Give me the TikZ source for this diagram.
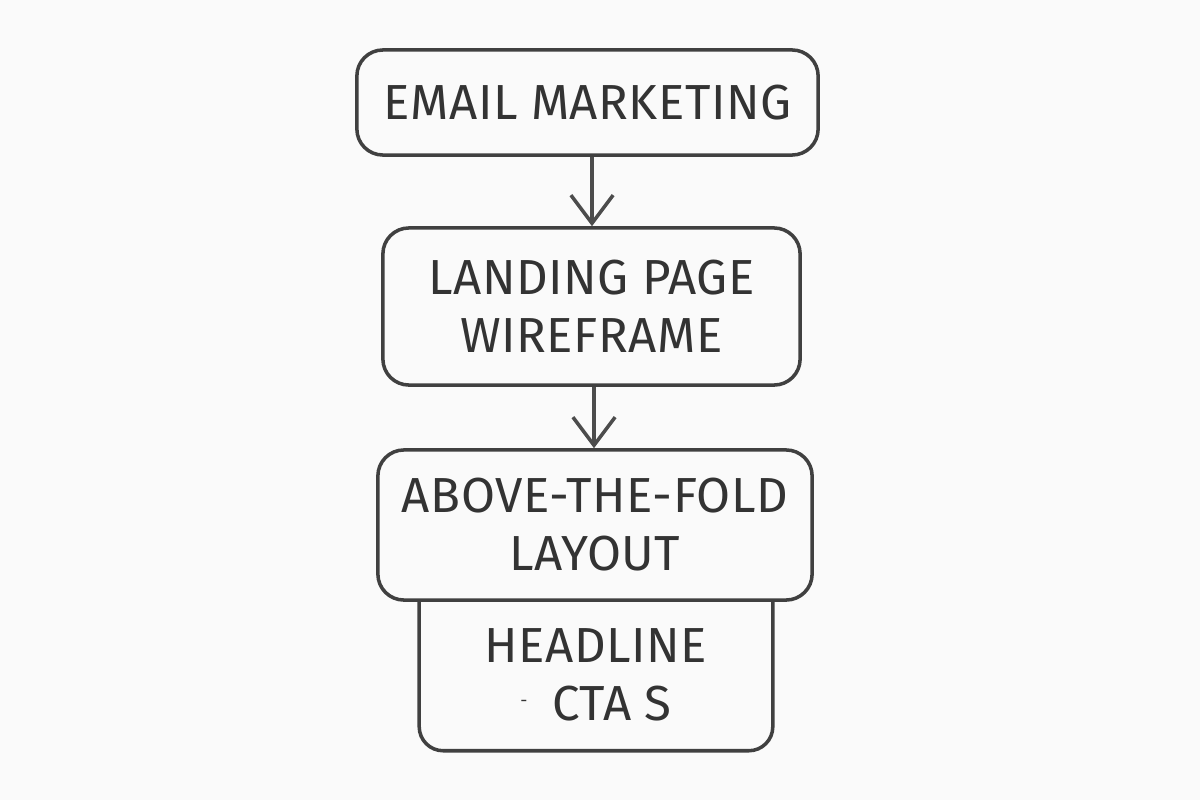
\documentclass[tikz,border=0pt]{standalone}
\usepackage{fontspec}
\setmainfont{Fira Sans}[LetterSpace=1]
\usetikzlibrary{arrows.meta,positioning}

\tikzset{
  stage/.style={draw=black!75, line width=1pt, rounded corners=0.26cm, align=center,
    font=\fontsize{14}{16.5}\selectfont, text=black!80, inner sep=0pt},
  flow/.style={draw=black!70, line width=1pt, -{Straight Barb[length=8pt,width=12pt]}},
}

\begin{document}
\begin{tikzpicture}[x=0.01cm,y=-0.01cm]
\fill[black!2] (0,0) rectangle (1200,800);
\useasboundingbox (0,0) rectangle (1200,800);

\node[stage, minimum width=4.61cm, minimum height=1.05cm] (email) at (587.5,102.5) {EMAIL MARKETING};
\node[stage, minimum width=4.17cm, minimum height=1.57cm] (landing) at (591.5,306.5) {LANDING PAGE\\WIREFRAME};
\node[stage, minimum width=4.34cm, minimum height=1.5cm] (fold) at (595,525) {ABOVE-THE-FOLD\\LAYOUT};
\node[align=center, font=\fontsize{14}{16.5}\selectfont, text=black!80,
  minimum width=3.52cm, minimum height=1.5cm, inner sep=0pt] (cta) at (596,675)
  {HEADLINE\\\raisebox{4pt}{\tiny -}\hspace{7pt}CTA S};

% bottom box hangs under the layout box
\draw[black!75, line width=1pt, rounded corners=0.24cm]
  (cta.north west) -- (cta.south west) -- (cta.south east) -- (cta.north east);

\draw[flow] (email.south -| 592,0) -- (landing.north -| 592,0);
\draw[flow] (landing.south -| 594,0) -- (fold.north -| 594,0);
\end{tikzpicture}
\end{document}
